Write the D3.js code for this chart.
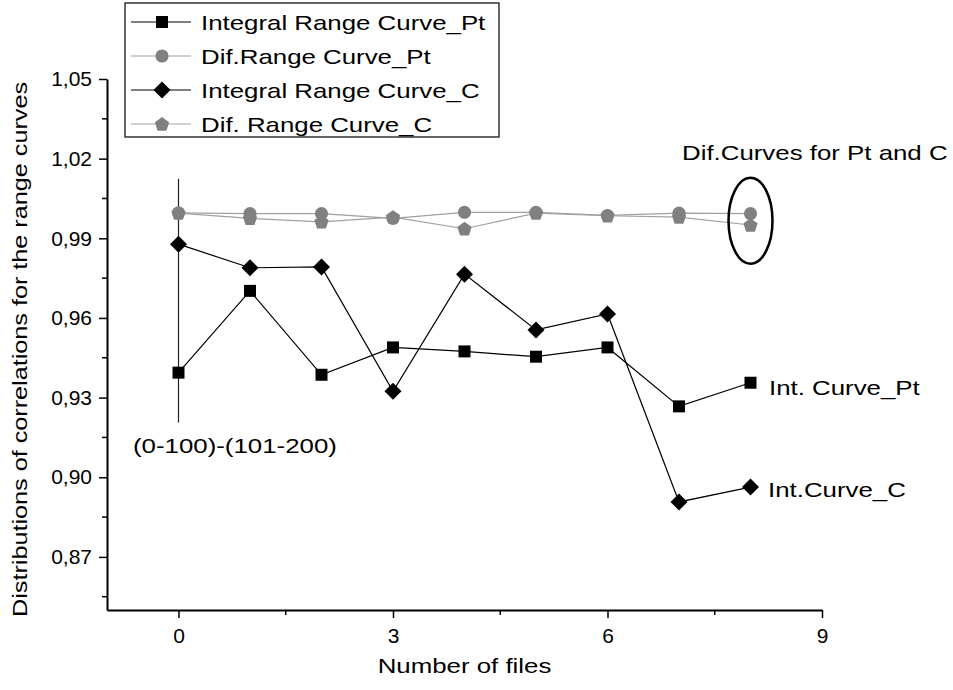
<!DOCTYPE html>
<html>
<head>
<meta charset="utf-8">
<script src="https://cdn.jsdelivr.net/npm/d3@7"></script>
<style>
  body { margin: 0; background: #fff; }
  text { font-family: "Liberation Sans", Arial, sans-serif; fill: #000; }
</style>
</head>
<body>
<div id="chart"></div>
<script>
const files = [0, 1, 2, 3, 4, 5, 6, 7, 8];
const intPt = [0.9394, 0.9702, 0.9386, 0.9489, 0.9474, 0.9454, 0.9489, 0.9267, 0.9356];
const difPt = [0.9996, 0.9993, 0.9993, 0.9975, 0.9998, 0.9998, 0.9986, 0.9995, 0.9993];
const intC = [0.9878, 0.9789, 0.9792, 0.9324, 0.9765, 0.9555, 0.9615, 0.8907, 0.8963];
const difC = [0.9995, 0.9975, 0.9962, 0.9980, 0.9936, 0.9995, 0.9985, 0.9980, 0.9950];
const xMajor = [0, 3, 6, 9];
const xMinor = [1.5, 4.5, 7.5];
const yMajor = [0.87, 0.90, 0.93, 0.96, 0.99, 1.02, 1.05];
const yMinor = [0.855, 0.885, 0.915, 0.945, 0.975, 1.005, 1.035];

const width = 953, height = 690;
const margin = { top: 79, right: 131, bottom: 80, left: 107 };

const svg = d3.select('#chart').append('svg')
  .attr('width', width)
  .attr('height', height);

const x = d3.scaleLinear().domain([-1, 9]).range([margin.left, width - margin.right]);
const y = d3.scaleLinear().domain([0.85, 1.05]).range([height - margin.bottom, margin.top]);

const comma = v => d3.format('.2f')(v).replace('.', ',');

// the lettering of the original is a little wider than plain Arial
function stretch(sel, k) {
  sel.each(function () {
    const len = this.getComputedTextLength();
    d3.select(this).attr('textLength', len * k).attr('lengthAdjust', 'spacingAndGlyphs');
  });
  return sel;
}

// axes
const xAxis = svg.append('g')
  .attr('transform', `translate(0, ${y(0.85)})`)
  .call(d3.axisBottom(x).tickValues(xMajor).tickSize(8).tickPadding(10).tickSizeOuter(0));
xAxis.append('g').selectAll('line').data(xMinor).join('line')
  .attr('x1', d => x(d)).attr('x2', d => x(d))
  .attr('y1', 0).attr('y2', 5).attr('stroke', '#000').attr('stroke-width', 1.5);

const yAxis = svg.append('g')
  .attr('transform', `translate(${x(-1)}, 0)`)
  .call(d3.axisLeft(y).tickValues(yMajor).tickFormat(comma).tickSize(8).tickPadding(7).tickSizeOuter(0));
yAxis.append('g').selectAll('line').data(yMinor).join('line')
  .attr('y1', d => y(d)).attr('y2', d => y(d))
  .attr('x1', 0).attr('x2', -5).attr('stroke', '#000').attr('stroke-width', 1.5);

svg.selectAll('.domain').attr('stroke', '#000').attr('stroke-width', 2);
svg.selectAll('.tick line').attr('stroke-width', 1.5);
svg.selectAll('.tick text').attr('font-size', 21).attr('font-family', '"Liberation Sans", Arial, sans-serif');

stretch(svg.append('text')
  .attr('x', (x(-1) + x(9)) / 2).attr('y', 673)
  .attr('text-anchor', 'middle').attr('font-size', 21)
  .text('Number of files'), 1.23);

stretch(svg.append('text')
  .attr('transform', `translate(27, ${(y(0.85) + y(1.05)) / 2 + 5}) rotate(-90)`)
  .attr('text-anchor', 'middle').attr('font-size', 21)
  .text('Distributions of correlations for the range curves'), 1.2);

// annotation line at x=0
svg.append('line')
  .attr('x1', x(0)).attr('x2', x(0))
  .attr('y1', y(1.0124)).attr('y2', y(0.9206))
  .attr('stroke', '#222').attr('stroke-width', 1.2);

function pentagon(r) {
  const pts = d3.range(5).map(i => {
    const a = -Math.PI / 2 + i * 2 * Math.PI / 5;
    return [r * Math.cos(a), r * Math.sin(a) + 0.6];
  });
  return 'M' + pts.join('L') + 'Z';
}
function diamond(r) {
  return `M0,${-r}L${r},0L0,${r}L${-r},0Z`;
}

const series = [
  { name: 'Integral Range Curve_Pt', values: intPt, line: '#000', fill: '#000', path: d3.symbol().type(d3.symbolSquare).size(144)() },
  { name: 'Dif.Range Curve_Pt', values: difPt, line: '#a0a0a0', fill: '#808080', path: d3.symbol().type(d3.symbolCircle).size(136)() },
  { name: 'Integral Range Curve_C', values: intC, line: '#000', fill: '#000', path: diamond(8.5) },
  { name: 'Dif. Range Curve_C', values: difC, line: '#a0a0a0', fill: '#808080', path: pentagon(7.5) }
];

const line = d3.line().x((d, i) => x(files[i])).y(d => y(d));

const drawOrder = [0, 2, 1, 3];
drawOrder.forEach(k => {
  const s = series[k];
  svg.append('path').datum(s.values)
    .attr('d', line).attr('fill', 'none')
    .attr('stroke', s.line).attr('stroke-width', 1.2);
});
drawOrder.forEach(k => {
  const s = series[k];
  svg.append('g').selectAll('path').data(s.values).join('path')
    .attr('transform', (d, i) => `translate(${x(files[i])}, ${y(d)})`)
    .attr('d', s.path)
    .attr('fill', s.fill);
});

// ellipse around the last differential points
svg.append('ellipse')
  .attr('cx', x(8)).attr('cy', y(0.9966))
  .attr('rx', 22).attr('ry', 43)
  .attr('fill', 'none').attr('stroke', '#000').attr('stroke-width', 2.5);

const notes = [
  { text: 'Dif.Curves for Pt and C', x: 682, y: 160 },
  { text: 'Int. Curve_Pt', x: 769, y: y(intPt[8]) + 12 },
  { text: 'Int.Curve_C', x: 768, y: y(intC[8]) + 10 },
  { text: '(0-100)-(101-200)', x: 133, y: 453 }
];
notes.forEach(n => {
  stretch(svg.append('text').attr('x', n.x).attr('y', n.y).attr('font-size', 21).text(n.text), 1.23);
});

// legend
const legend = svg.append('g').attr('transform', 'translate(125, 3)');
legend.append('rect')
  .attr('width', 374).attr('height', 134)
  .attr('fill', '#fff').attr('stroke', '#000').attr('stroke-width', 1.2);
series.forEach((s, i) => {
  const g = legend.append('g').attr('transform', `translate(0, ${19 + i * 34})`);
  g.append('line').attr('x1', 6).attr('x2', 66).attr('stroke', s.line).attr('stroke-width', 1.2);
  g.append('path').attr('transform', 'translate(37, 0)').attr('d', s.path).attr('fill', s.fill);
  stretch(g.append('text').attr('x', 76).attr('y', 8).attr('font-size', 21).text(s.name), 1.23);
});
</script>
</body>
</html>
